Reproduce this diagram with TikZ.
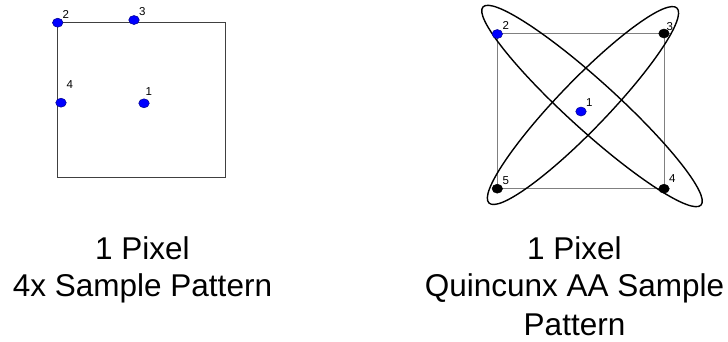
\documentclass[tikz,border=0pt]{standalone}
\usepackage{fontspec}
\setmainfont{Liberation Sans}
\usetikzlibrary{shapes.geometric}
\tikzset{
  dotb/.style={shape=ellipse, minimum width=10.5pt, minimum height=9pt, inner sep=0pt, fill={rgb,255:red,0;green,0;blue,255}, draw={rgb,255:red,0;green,0;blue,140}, line width=0.5pt},
  dotk/.style={shape=ellipse, minimum width=10.5pt, minimum height=9pt, inner sep=0pt, fill=black, draw=black, line width=0.5pt},
  lbl/.style={anchor=base west, inner sep=0pt, font=\fontsize{11.5}{13}\selectfont},
  captxt/.style={anchor=base, inner sep=0pt, font=\fontsize{31.5}{38}\selectfont},
  pixl/.style={draw=black!75, line width=1pt},
  pixr/.style={draw=black!50, line width=1pt},
  lobe/.style={draw=black, line width=1.4pt}
}
\begin{document}
\begin{tikzpicture}[x=1pt,y=-1pt]
\useasboundingbox (0,0) rectangle (728,341);
% left pixel
\draw[pixl] (57.3,22.7) rectangle (225.3,177.3);
\node[dotb] (l2) at (57.7,22.7) {};
\node[dotb] (l3) at (134,20) {};
\node[dotb] (l4) at (61,102.7) {};
\node[dotb] (l1) at (144,103.3) {};
\node[lbl] (tl2) at (62.3,18.3) {2};
\node[lbl] (tl3) at (138.8,15.7) {3};
\node[lbl] (tl4) at (66.3,88.3) {4};
\node[lbl] (tl1) at (145.5,95) {1};
% right pixel
\draw[pixr] (497.3,33.7) rectangle (664.7,188.7);
\coordinate (e1) at (592,106);
\coordinate (e2) at (583,105.5);
\draw[lobe, rotate around={-42.25:(e1)}] (e1) ellipse [x radius=147.3pt, y radius=24.5pt];
\draw[lobe, rotate around={46.05:(e2)}] (e2) ellipse [x radius=135.4pt, y radius=24.5pt];
\node[dotb] (r2) at (497.3,34) {};
\node[dotk] (r3) at (664,33.5) {};
\node[dotb] (r1) at (581,111.5) {};
\node[dotk] (r5) at (497.3,188.7) {};
\node[dotk] (r4) at (664,188.7) {};
\node[lbl] (tr2) at (502.3,29.5) {2};
\node[lbl] (tr3) at (666.3,30.5) {3};
\node[lbl] (tr1) at (585.8,106) {1};
\node[lbl] (tr5) at (502.3,184) {5};
\node[lbl] (tr4) at (668.8,182.7) {4};
% captions
\node[captxt] (c1a) at (142.5,259.3) {1 Pixel};
\node[captxt] (c1b) at (142.5,296.7) {4x Sample Pattern};
\node[captxt] (c2a) at (574.5,259.3) {1 Pixel};
\node[captxt] (c2b) at (574.5,296.7) {Quincunx AA Sample};
\node[captxt] (c2c) at (574.5,335) {Pattern};
\end{tikzpicture}
\end{document}
